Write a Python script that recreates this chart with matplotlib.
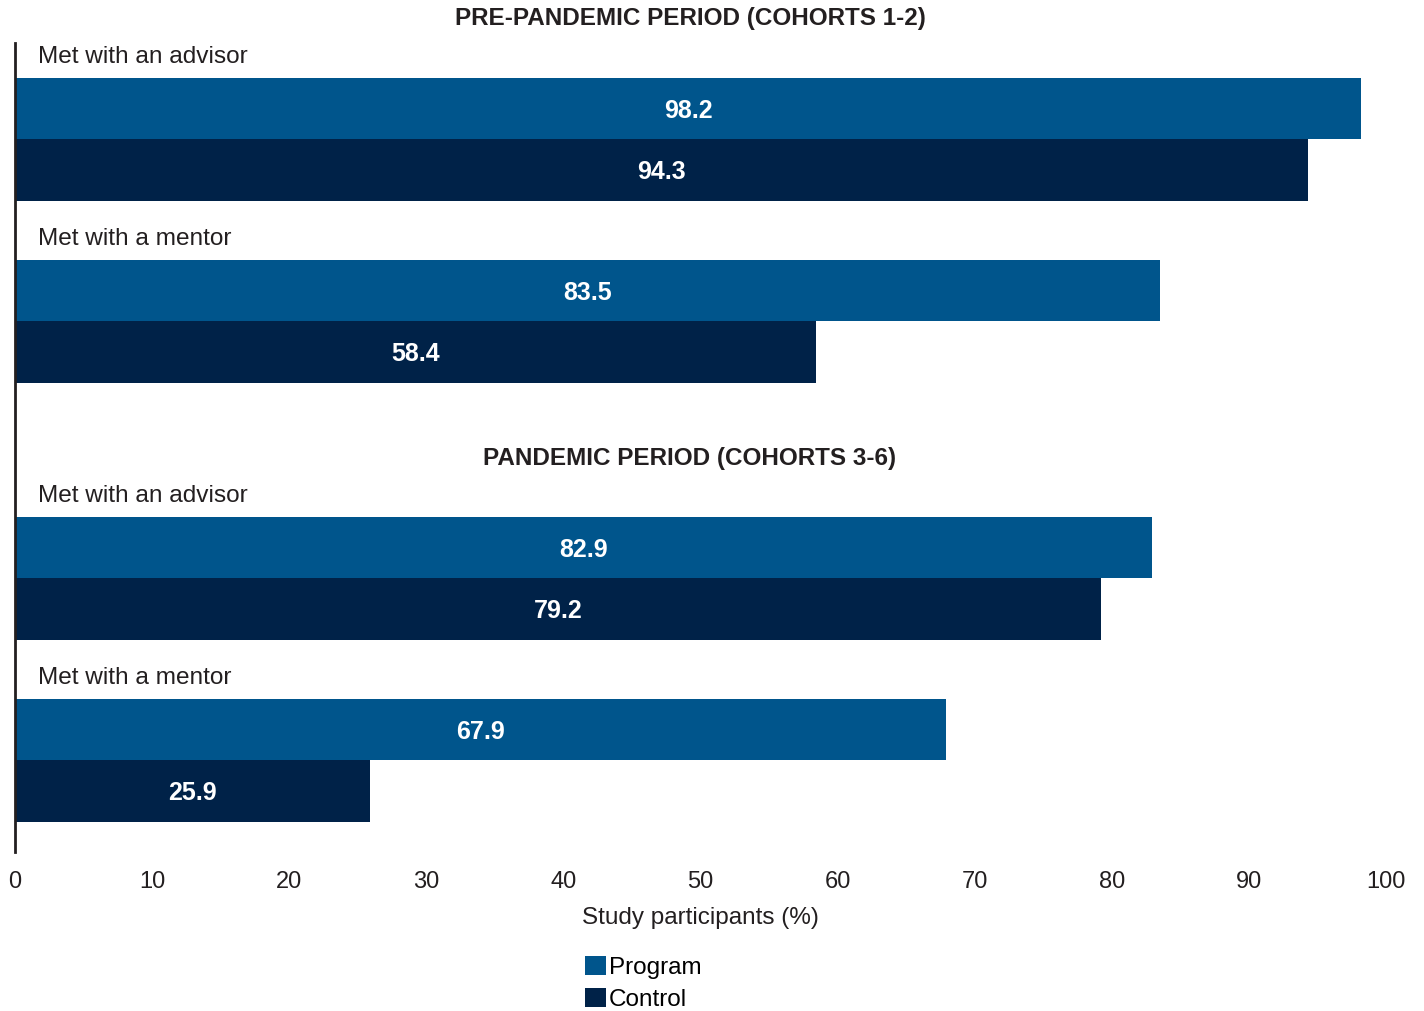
import matplotlib.pyplot as plt
from matplotlib.patches import Patch

plt.rcParams['font.family'] = ['Liberation Sans', 'DejaVu Sans']

periods = ["PRE-PANDEMIC PERIOD (COHORTS 1-2)", "PANDEMIC PERIOD (COHORTS 3-6)"]
measures = ["Met with an advisor", "Met with a mentor"]
program = [[98.2, 83.5], [82.9, 67.9]]
control = [[94.3, 58.4], [79.2, 25.9]]
series_names = ["Program", "Control"]
colors = ["#00558C", "#002248"]

W, H = 1424, 1011
fig = plt.figure(figsize=(W / 100, H / 100), dpi=100)
# axes box in pixels: left 15, right 1386, top 43, bottom 852
ax = fig.add_axes([15 / W, 1 - 852 / H, (1386 - 15) / W, (852 - 43) / H])
ax.set_xlim(0, 100)
ax.set_ylim(852, 43)

bar_h = 61.3
first_top = 78
measure_step = 182
period_step = 439

for p, title in enumerate(periods):
    base = first_top + p * period_step
    fig.text(690 / W, 1 - (base - 59) / H, title, ha='center', va='center',
             fontsize=17.5, fontweight='bold', color='#231F20')
    for m, name in enumerate(measures):
        top = base + m * measure_step
        ax.text(1.7, top - 21, name, ha='left', va='center', fontsize=17.6, color='#231F20')
        for s, vals in enumerate([program, control]):
            v = vals[p][m]
            yc = top + bar_h * (s + 0.5)
            ax.barh(yc, v, height=bar_h, color=colors[s], linewidth=0)
            ax.text(v / 2, yc + 2, f"{v:.1f}", ha='center', va='center',
                    fontsize=18, fontweight='bold', color='white')

for side in ['top', 'right', 'bottom']:
    ax.spines[side].set_visible(False)
ax.spines['left'].set_color('#231F20')
ax.spines['left'].set_linewidth(2)
ax.set_yticks([])
ax.set_xticks(range(0, 101, 10))
ax.tick_params(axis='x', length=0, pad=14, labelsize=17, labelcolor='#231F20')
ax.set_xlabel("Study participants (%)", fontsize=17.5, color='#231F20', labelpad=10)

handles = [Patch(facecolor=c, edgecolor='none') for c in colors]
fig.legend(handles, series_names, loc='upper left', bbox_to_anchor=(585 / W, 1 - 956 / H),
           frameon=False, fontsize=17.5, handlelength=0.85, handleheight=0.85,
           handletextpad=0.12, labelspacing=0.36, borderpad=0, borderaxespad=0)

fig.savefig("out.png", dpi=100)
